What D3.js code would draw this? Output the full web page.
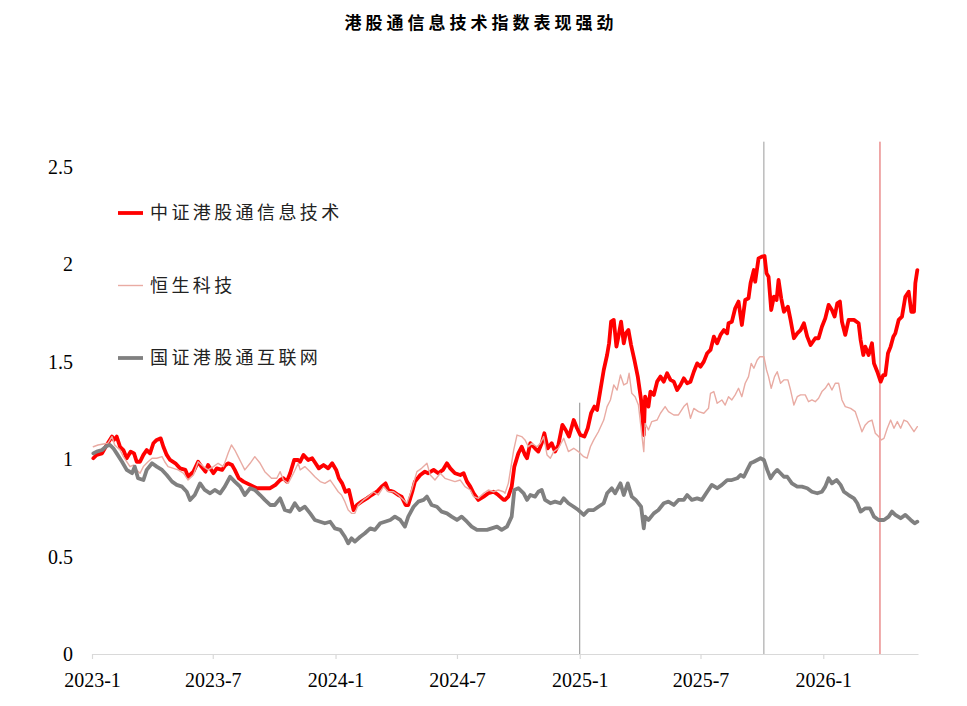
<!DOCTYPE html>
<html><head><meta charset="utf-8">
<script src="https://cdn.jsdelivr.net/npm/d3@7"></script>
<style>body{margin:0;background:#fff}</style>
</head><body>
<svg id="c" width="967" height="706"></svg>
<script>
const chartTitle = "港股通信息技术指数表现强劲";
const seriesNames = ["中证港股通信息技术", "恒生科技", "国证港股通互联网"];
const xTickLabels = ["2023-1", "2023-7", "2024-1", "2024-7", "2025-1", "2025-7", "2026-1"];
const yTickValues = [0, 0.5, 1, 1.5, 2, 2.5];
const xDomain = ["2023-01-01", "2026-05-23"];
const markerDates = ["2025-01-01", "2025-10-04", "2026-03-27"];
const markerTops = [1.29, 2.63, 2.63];

// 中证港股通信息技术
const techData = [["2023-01-03",1.005],["2023-01-08",1.022],["2023-01-16",1.030],["2023-01-23",1.073],["2023-01-31",1.116],["2023-02-03",1.099],["2023-02-07",1.116],["2023-02-12",1.064],["2023-02-17",1.047],["2023-02-22",1.005],["2023-02-28",1.039],["2023-03-05",1.030],["2023-03-09",0.987],["2023-03-14",0.987],["2023-03-19",1.022],["2023-03-24",1.047],["2023-03-29",1.030],["2023-04-03",1.082],["2023-04-08",1.099],["2023-04-14",1.107],["2023-04-18",1.064],["2023-04-23",1.022],["2023-04-28",0.996],["2023-05-06",0.979],["2023-05-13",0.953],["2023-05-21",0.945],["2023-05-25",0.910],["2023-06-02",0.936],["2023-06-09",0.987],["2023-06-14",0.962],["2023-06-20",0.936],["2023-06-24",0.970],["2023-07-02",0.928],["2023-07-07",0.953],["2023-07-15",0.945],["2023-07-20",0.970],["2023-07-24",0.979],["2023-07-30",0.970],["2023-08-03",0.945],["2023-08-09",0.902],["2023-08-16",0.885],["2023-08-26",0.868],["2023-09-05",0.851],["2023-09-15",0.851],["2023-09-25",0.851],["2023-10-03",0.868],["2023-10-10",0.893],["2023-10-15",0.902],["2023-10-20",0.885],["2023-10-25",0.928],["2023-10-31",0.996],["2023-11-06",0.996],["2023-11-09",0.987],["2023-11-14",1.022],["2023-11-21",0.996],["2023-11-27",1.005],["2023-12-02",0.979],["2023-12-07",0.953],["2023-12-14",0.970],["2023-12-21",0.953],["2023-12-27",0.979],["2024-01-02",0.945],["2024-01-06",0.902],["2024-01-11",0.876],["2024-01-16",0.833],["2024-01-21",0.842],["2024-01-24",0.799],["2024-01-28",0.739],["2024-02-02",0.765],["2024-02-09",0.782],["2024-02-17",0.799],["2024-02-24",0.816],["2024-03-03",0.833],["2024-03-10",0.859],["2024-03-16",0.876],["2024-03-20",0.842],["2024-03-28",0.833],["2024-04-04",0.816],["2024-04-09",0.808],["2024-04-15",0.765],["2024-04-19",0.765],["2024-04-25",0.833],["2024-04-29",0.885],["2024-05-07",0.919],["2024-05-14",0.936],["2024-05-19",0.928],["2024-05-27",0.945],["2024-06-03",0.928],["2024-06-10",0.945],["2024-06-16",0.979],["2024-06-21",0.953],["2024-06-28",0.928],["2024-07-06",0.919],["2024-07-11",0.928],["2024-07-16",0.885],["2024-07-21",0.859],["2024-07-26",0.825],["2024-08-02",0.791],["2024-08-10",0.808],["2024-08-17",0.825],["2024-08-25",0.833],["2024-09-01",0.816],["2024-09-09",0.791],["2024-09-11",0.791],["2024-09-16",0.808],["2024-09-21",0.859],["2024-09-25",0.962],["2024-10-01",1.030],["2024-10-06",1.064],["2024-10-11",1.022],["2024-10-14",1.005],["2024-10-19",1.082],["2024-10-26",1.056],["2024-10-31",1.039],["2024-11-05",1.082],["2024-11-09",1.133],["2024-11-14",1.056],["2024-11-20",1.082],["2024-11-25",1.039],["2024-11-30",1.073],["2024-12-06",1.176],["2024-12-11",1.150],["2024-12-16",1.116],["2024-12-23",1.201],["2024-12-28",1.159],["2025-01-02",1.124],["2025-01-08",1.116],["2025-01-13",1.159],["2025-01-18",1.236],["2025-01-23",1.270],["2025-01-27",1.253],["2025-02-01",1.355],["2025-02-06",1.458],["2025-02-11",1.535],["2025-02-14",1.595],["2025-02-17",1.706],["2025-02-21",1.715],["2025-02-25",1.578],["2025-02-28",1.629],["2025-03-04",1.706],["2025-03-08",1.595],["2025-03-11",1.646],["2025-03-15",1.663],["2025-03-19",1.586],["2025-03-24",1.509],["2025-03-29",1.424],["2025-04-03",1.304],["2025-04-07",1.124],["2025-04-09",1.321],["2025-04-14",1.270],["2025-04-17",1.347],["2025-04-22",1.330],["2025-04-27",1.398],["2025-05-02",1.424],["2025-05-07",1.398],["2025-05-12",1.441],["2025-05-17",1.407],["2025-05-22",1.398],["2025-05-27",1.355],["2025-06-01",1.381],["2025-06-06",1.415],["2025-06-11",1.390],["2025-06-16",1.398],["2025-06-21",1.449],["2025-06-26",1.492],["2025-07-01",1.475],["2025-07-06",1.501],["2025-07-11",1.544],["2025-07-16",1.561],["2025-07-21",1.629],["2025-07-26",1.595],["2025-07-31",1.638],["2025-08-05",1.663],["2025-08-10",1.646],["2025-08-12",1.698],["2025-08-17",1.706],["2025-08-22",1.775],["2025-08-27",1.809],["2025-09-01",1.689],["2025-09-06",1.817],["2025-09-11",1.826],["2025-09-14",1.903],["2025-09-19",1.971],["2025-09-21",1.911],["2025-09-26",2.031],["2025-10-01",2.040],["2025-10-05",2.043],["2025-10-08",1.954],["2025-10-11",1.937],["2025-10-15",1.766],["2025-10-19",1.834],["2025-10-23",1.817],["2025-10-26",1.920],["2025-10-30",1.826],["2025-11-03",1.757],["2025-11-09",1.783],["2025-11-13",1.715],["2025-11-18",1.621],["2025-11-23",1.646],["2025-11-28",1.663],["2025-12-03",1.698],["2025-12-08",1.629],["2025-12-13",1.586],["2025-12-20",1.621],["2025-12-25",1.621],["2025-12-30",1.680],["2026-01-04",1.723],["2026-01-09",1.792],["2026-01-14",1.766],["2026-01-18",1.732],["2026-01-22",1.800],["2026-01-26",1.809],["2026-01-29",1.706],["2026-02-03",1.638],["2026-02-08",1.715],["2026-02-16",1.715],["2026-02-23",1.698],["2026-02-26",1.612],["2026-03-02",1.535],["2026-03-05",1.578],["2026-03-10",1.535],["2026-03-15",1.595],["2026-03-18",1.492],["2026-03-23",1.449],["2026-03-28",1.398],["2026-04-01",1.432],["2026-04-04",1.432],["2026-04-08",1.544],["2026-04-12",1.578],["2026-04-16",1.629],["2026-04-19",1.646],["2026-04-24",1.715],["2026-04-29",1.732],["2026-05-04",1.834],["2026-05-09",1.860],["2026-05-13",1.757],["2026-05-17",1.757],["2026-05-19",1.903],["2026-05-22",1.971]];

// 恒生科技
const hstechData = [["2023-01-03",1.064],["2023-01-10",1.073],["2023-01-18",1.078],["2023-01-25",1.082],["2023-01-31",1.116],["2023-02-04",1.073],["2023-02-12",1.047],["2023-02-17",1.013],["2023-02-22",0.987],["2023-02-27",0.962],["2023-03-04",0.970],["2023-03-09",0.945],["2023-03-14",0.928],["2023-03-19",0.962],["2023-03-26",0.987],["2023-04-01",1.005],["2023-04-08",1.005],["2023-04-16",1.013],["2023-04-20",0.987],["2023-04-25",0.962],["2023-05-03",0.953],["2023-05-10",0.945],["2023-05-18",0.928],["2023-05-25",0.893],["2023-06-02",0.919],["2023-06-09",0.987],["2023-06-17",0.962],["2023-06-24",0.945],["2023-07-02",0.962],["2023-07-09",0.979],["2023-07-17",0.962],["2023-07-24",1.030],["2023-07-29",1.073],["2023-08-03",1.047],["2023-08-08",1.013],["2023-08-13",0.979],["2023-08-18",0.945],["2023-08-26",0.979],["2023-09-02",1.013],["2023-09-10",0.979],["2023-09-17",0.936],["2023-09-27",0.902],["2023-10-05",0.902],["2023-10-10",0.936],["2023-10-15",0.893],["2023-10-22",0.876],["2023-10-30",0.928],["2023-11-06",0.979],["2023-11-09",0.945],["2023-11-16",0.962],["2023-11-24",0.936],["2023-12-01",0.910],["2023-12-09",0.885],["2023-12-16",0.876],["2023-12-24",0.893],["2023-12-29",0.868],["2024-01-05",0.833],["2024-01-10",0.816],["2024-01-15",0.782],["2024-01-20",0.739],["2024-01-25",0.722],["2024-01-30",0.722],["2024-02-04",0.765],["2024-02-12",0.791],["2024-02-19",0.808],["2024-02-27",0.833],["2024-03-05",0.816],["2024-03-13",0.859],["2024-03-20",0.833],["2024-03-28",0.833],["2024-04-04",0.816],["2024-04-12",0.791],["2024-04-17",0.774],["2024-04-24",0.842],["2024-05-02",0.936],["2024-05-09",0.953],["2024-05-17",0.979],["2024-05-22",0.919],["2024-05-29",0.893],["2024-06-06",0.928],["2024-06-13",0.902],["2024-06-21",0.893],["2024-06-28",0.885],["2024-07-06",0.893],["2024-07-13",0.859],["2024-07-21",0.842],["2024-07-26",0.808],["2024-08-02",0.799],["2024-08-10",0.825],["2024-08-17",0.842],["2024-08-25",0.833],["2024-09-01",0.842],["2024-09-09",0.833],["2024-09-11",0.825],["2024-09-16",0.876],["2024-09-24",1.047],["2024-09-29",1.124],["2024-10-06",1.116],["2024-10-11",1.099],["2024-10-16",1.064],["2024-10-21",1.082],["2024-10-29",1.064],["2024-11-03",1.082],["2024-11-08",1.116],["2024-11-13",1.022],["2024-11-18",1.005],["2024-11-23",1.039],["2024-11-30",1.056],["2024-12-08",1.107],["2024-12-15",1.039],["2024-12-23",1.056],["2024-12-30",1.039],["2025-01-07",1.013],["2025-01-12",1.005],["2025-01-17",1.064],["2025-01-22",1.099],["2025-01-29",1.141],["2025-02-06",1.201],["2025-02-11",1.270],["2025-02-16",1.304],["2025-02-21",1.381],["2025-02-26",1.355],["2025-03-03",1.432],["2025-03-08",1.381],["2025-03-13",1.390],["2025-03-16",1.441],["2025-03-20",1.338],["2025-03-25",1.321],["2025-03-30",1.278],["2025-04-07",1.039],["2025-04-09",1.184],["2025-04-14",1.150],["2025-04-19",1.193],["2025-04-27",1.201],["2025-05-02",1.236],["2025-05-09",1.270],["2025-05-14",1.244],["2025-05-22",1.227],["2025-05-29",1.227],["2025-06-06",1.270],["2025-06-11",1.287],["2025-06-16",1.210],["2025-06-21",1.261],["2025-06-28",1.244],["2025-07-06",1.236],["2025-07-13",1.261],["2025-07-16",1.338],["2025-07-21",1.347],["2025-07-26",1.287],["2025-08-02",1.304],["2025-08-07",1.278],["2025-08-12",1.321],["2025-08-17",1.304],["2025-08-22",1.330],["2025-08-27",1.364],["2025-09-01",1.321],["2025-09-06",1.390],["2025-09-11",1.424],["2025-09-15",1.492],["2025-09-19",1.467],["2025-09-24",1.509],["2025-09-28",1.526],["2025-10-04",1.526],["2025-10-08",1.458],["2025-10-11",1.424],["2025-10-15",1.364],["2025-10-20",1.424],["2025-10-24",1.449],["2025-10-29",1.390],["2025-11-03",1.407],["2025-11-09",1.407],["2025-11-13",1.355],["2025-11-18",1.278],["2025-11-23",1.321],["2025-11-28",1.330],["2025-12-05",1.330],["2025-12-10",1.295],["2025-12-15",1.304],["2025-12-20",1.295],["2025-12-25",1.313],["2025-12-30",1.347],["2026-01-04",1.364],["2026-01-09",1.390],["2026-01-14",1.355],["2026-01-19",1.390],["2026-01-24",1.390],["2026-01-29",1.304],["2026-02-03",1.270],["2026-02-11",1.261],["2026-02-18",1.244],["2026-02-23",1.193],["2026-02-28",1.141],["2026-03-05",1.176],["2026-03-10",1.193],["2026-03-15",1.201],["2026-03-20",1.133],["2026-03-25",1.116],["2026-03-29",1.099],["2026-04-02",1.107],["2026-04-07",1.159],["2026-04-12",1.201],["2026-04-17",1.159],["2026-04-22",1.193],["2026-04-27",1.159],["2026-05-02",1.201],["2026-05-07",1.193],["2026-05-12",1.167],["2026-05-17",1.141],["2026-05-22",1.167]];

// 国证港股通互联网
const internetData = [["2023-01-03",1.030],["2023-01-08",1.039],["2023-01-16",1.047],["2023-01-23",1.068],["2023-01-28",1.073],["2023-02-02",1.056],["2023-02-07",1.030],["2023-02-15",0.987],["2023-02-22",0.945],["2023-03-02",0.928],["2023-03-06",0.962],["2023-03-11",0.902],["2023-03-19",0.893],["2023-03-24",0.945],["2023-04-01",0.979],["2023-04-08",0.962],["2023-04-16",0.945],["2023-04-23",0.919],["2023-05-01",0.885],["2023-05-08",0.868],["2023-05-16",0.859],["2023-05-23",0.833],["2023-05-28",0.791],["2023-06-04",0.816],["2023-06-12",0.876],["2023-06-19",0.842],["2023-06-27",0.825],["2023-07-04",0.842],["2023-07-12",0.825],["2023-07-19",0.859],["2023-07-27",0.910],["2023-08-03",0.885],["2023-08-11",0.859],["2023-08-18",0.816],["2023-08-26",0.851],["2023-09-02",0.842],["2023-09-10",0.816],["2023-09-17",0.791],["2023-09-25",0.765],["2023-10-02",0.765],["2023-10-10",0.799],["2023-10-17",0.739],["2023-10-25",0.731],["2023-11-01",0.774],["2023-11-08",0.739],["2023-11-16",0.756],["2023-11-24",0.722],["2023-12-01",0.688],["2023-12-09",0.679],["2023-12-16",0.671],["2023-12-24",0.679],["2023-12-31",0.645],["2024-01-08",0.637],["2024-01-15",0.602],["2024-01-20",0.568],["2024-01-25",0.594],["2024-01-30",0.577],["2024-02-07",0.602],["2024-02-14",0.620],["2024-02-22",0.645],["2024-02-29",0.637],["2024-03-08",0.671],["2024-03-15",0.679],["2024-03-23",0.688],["2024-03-30",0.705],["2024-04-07",0.688],["2024-04-14",0.654],["2024-04-19",0.705],["2024-04-27",0.756],["2024-05-04",0.782],["2024-05-12",0.791],["2024-05-17",0.808],["2024-05-24",0.765],["2024-06-01",0.756],["2024-06-08",0.731],["2024-06-16",0.722],["2024-06-23",0.705],["2024-07-01",0.688],["2024-07-08",0.705],["2024-07-16",0.679],["2024-07-23",0.654],["2024-07-31",0.637],["2024-08-07",0.637],["2024-08-15",0.637],["2024-08-22",0.645],["2024-08-30",0.654],["2024-09-06",0.637],["2024-09-14",0.654],["2024-09-21",0.705],["2024-09-25",0.842],["2024-10-01",0.851],["2024-10-09",0.825],["2024-10-14",0.791],["2024-10-19",0.816],["2024-10-26",0.808],["2024-10-31",0.833],["2024-11-05",0.842],["2024-11-10",0.791],["2024-11-18",0.774],["2024-11-25",0.782],["2024-12-03",0.774],["2024-12-08",0.799],["2024-12-15",0.774],["2024-12-23",0.756],["2024-12-30",0.739],["2025-01-07",0.714],["2025-01-14",0.739],["2025-01-22",0.739],["2025-01-29",0.756],["2025-02-06",0.774],["2025-02-11",0.825],["2025-02-18",0.851],["2025-02-23",0.825],["2025-03-03",0.876],["2025-03-08",0.816],["2025-03-14",0.876],["2025-03-20",0.808],["2025-03-26",0.791],["2025-04-03",0.756],["2025-04-07",0.645],["2025-04-09",0.705],["2025-04-14",0.688],["2025-04-22",0.722],["2025-04-29",0.739],["2025-05-07",0.774],["2025-05-14",0.782],["2025-05-22",0.765],["2025-05-29",0.791],["2025-06-06",0.791],["2025-06-11",0.816],["2025-06-18",0.791],["2025-06-26",0.799],["2025-07-03",0.791],["2025-07-11",0.833],["2025-07-18",0.868],["2025-07-26",0.851],["2025-08-02",0.868],["2025-08-10",0.893],["2025-08-17",0.893],["2025-08-25",0.902],["2025-08-30",0.919],["2025-09-04",0.910],["2025-09-09",0.945],["2025-09-14",0.979],["2025-09-19",0.987],["2025-09-24",0.996],["2025-09-29",1.005],["2025-10-04",0.996],["2025-10-09",0.945],["2025-10-14",0.902],["2025-10-19",0.928],["2025-10-24",0.945],["2025-10-29",0.928],["2025-11-03",0.910],["2025-11-08",0.910],["2025-11-15",0.876],["2025-11-23",0.859],["2025-11-30",0.859],["2025-12-08",0.851],["2025-12-15",0.833],["2025-12-23",0.825],["2025-12-30",0.833],["2026-01-04",0.859],["2026-01-09",0.902],["2026-01-14",0.876],["2026-01-21",0.893],["2026-01-27",0.868],["2026-02-01",0.833],["2026-02-08",0.816],["2026-02-16",0.799],["2026-02-21",0.774],["2026-02-26",0.731],["2026-03-05",0.748],["2026-03-12",0.748],["2026-03-18",0.705],["2026-03-25",0.688],["2026-04-02",0.688],["2026-04-09",0.705],["2026-04-14",0.731],["2026-04-19",0.714],["2026-04-27",0.697],["2026-05-04",0.714],["2026-05-12",0.688],["2026-05-18",0.671],["2026-05-22",0.679]];

const seriesData = [techData, hstechData, internetData];
const seriesStyle = [
  {color: "#ff0000", width: 3.8},
  {color: "#e9aba3", width: 1.4},
  {color: "#808080", width: 3.8}
];
const markerColors = ["#8c8c8c", "#9a9a9a", "#e05555"];

const parse = d3.timeParse("%Y-%m-%d");
const svg = d3.select("#c");
const W = 967, H = 706;
svg.append("rect").attr("width", W).attr("height", H).attr("fill", "#fff");

const x = d3.scaleTime().domain(xDomain.map(parse)).range([92, 918]);
const y = d3.scaleLinear().domain([0, 2.5]).range([654, 167]);

// title
svg.append("text")
  .attr("x", 481).attr("y", 29)
  .attr("text-anchor", "middle")
  .attr("font-family", "'Noto Sans CJK SC', sans-serif")
  .attr("font-weight", 700)
  .attr("font-size", 17)
  .attr("letter-spacing", 4)
  .attr("fill", "#000")
  .text(chartTitle);

// y axis labels
const yAxis = svg.append("g").attr("transform", "translate(92,0)")
  .call(d3.axisLeft(y).tickValues(yTickValues).tickSize(0).tickPadding(19).tickFormat(d3.format("")));
yAxis.select(".domain").remove();
yAxis.selectAll("text").attr("font-family", "'Liberation Serif', 'Times New Roman', serif").attr("font-size", 20).attr("fill", "#000");

// marker lines
markerDates.forEach((d, i) => {
  svg.append("line")
    .attr("x1", x(parse(d))).attr("x2", x(parse(d)))
    .attr("y1", y(markerTops[i])).attr("y2", y(0))
    .attr("stroke", markerColors[i]).attr("stroke-width", 1);
});

// x axis
const tickDates = xTickLabels.map(s => { const [yy, mm] = s.split("-").map(Number); return new Date(yy, mm - 1, 1); });
const xAxis = svg.append("g").attr("transform", `translate(0,${y(0)})`)
  .call(d3.axisBottom(x).tickValues(tickDates).tickFormat((d, i) => xTickLabels[i]).tickSize(5).tickSizeOuter(0).tickPadding(14));
xAxis.select(".domain").attr("stroke", "#d9d9d9").attr("stroke-width", 1.2);
xAxis.selectAll(".tick line").attr("stroke", "#d9d9d9").attr("stroke-width", 1.2);
xAxis.selectAll("text").attr("font-family", "'Liberation Serif', 'Times New Roman', serif").attr("font-size", 20).attr("fill", "#000");

// series lines
const line = d3.line().x(d => x(parse(d[0]))).y(d => y(d[1]));
seriesData.forEach((data, i) => {
  svg.append("path")
    .datum(data)
    .attr("d", line)
    .attr("fill", "none")
    .attr("stroke", seriesStyle[i].color)
    .attr("stroke-width", seriesStyle[i].width)
    .attr("stroke-linejoin", "round")
    .attr("stroke-linecap", "round");
});

// legend
const legend = svg.append("g").attr("transform", "translate(118,213)");
seriesNames.forEach((name, i) => {
  const g = legend.append("g").attr("transform", `translate(0,${i * 72.5})`);
  g.append("line").attr("x1", 0).attr("x2", 25).attr("y1", 0).attr("y2", 0)
    .attr("stroke", seriesStyle[i].color).attr("stroke-width", seriesStyle[i].width);
  g.append("text").attr("x", 32).attr("y", 0).attr("dy", "0.36em")
    .attr("font-family", "'Noto Sans CJK SC', sans-serif")
    .attr("font-size", 18).attr("letter-spacing", 3.4).attr("fill", "#222")
    .text(name);
});
</script>
</body></html>
